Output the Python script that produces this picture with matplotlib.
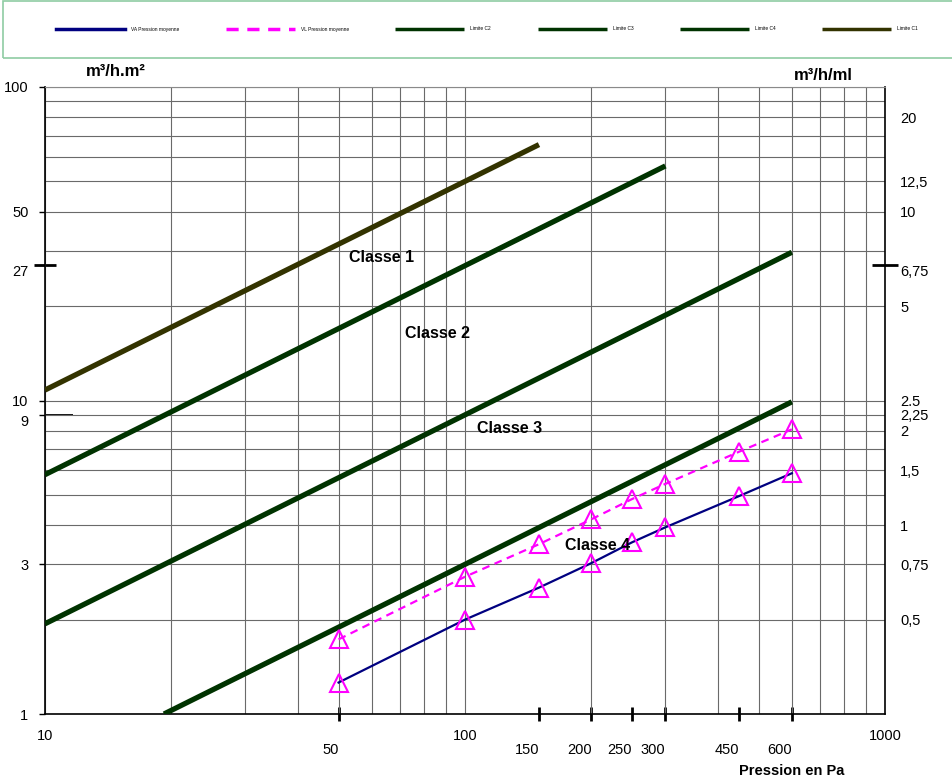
import numpy as np
import matplotlib
matplotlib.use("Agg")
import matplotlib.pyplot as plt
from matplotlib.patches import Rectangle
from matplotlib.ticker import LogLocator, NullFormatter, FixedLocator

plt.rcParams['font.family'] = ['Liberation Sans', 'DejaVu Sans']

# pressions des mesures (Pa)
pressions = [50, 100, 150, 200, 250, 300, 450, 600]
# debits mesures m3/h.m2
va_moy = [1.26, 2.0, 2.53, 3.03, 3.53, 3.94, 4.96, 5.86]
vl_moy = [1.73, 2.74, 3.48, 4.18, 4.85, 5.42, 6.87, 8.09]

# limites de classe (extremites des droites)
c1_x = [10, 150]
c1_y = [10.8, 65.5]
c2_x = [10, 300]
c2_y = [5.8, 56]
c3_x = [10, 600]
c3_y = [1.94, 29.7]
c4_x = [19.2, 600]
c4_y = [1, 9.9]

# graduations
left_vals = [1, 3, 9, 10, 27, 40, 100]
left_labels = ['1', '3', '9', '10', '27', '50', '100']
right_vals = [20, 12.5, 10, 6.75, 5, 2.5, 2.25, 2, 1.5, 1, 0.75, 0.5]
right_labels = ['20', '12,5', '10', '6,75', '5', '2.5', '2,25', '2', '1,5', '1', '0,75', '0,5']
x_major = [10, 100, 1000]
x_extra = [50, 150, 200, 250, 300, 450, 600]

classes = ['Classe 1', 'Classe 2', 'Classe 3', 'Classe 4']
classe_x = [52.9, 71.9, 107, 173]
classe_y = [28.5, 16.4, 8.17, 3.44]

fig = plt.figure(figsize=(9.53, 7.8), dpi=100)
ax = fig.add_axes([45/953, 66/780, 840/953, 627/780])
ax.set_xscale('log')
ax.set_yscale('log')
ax.set_xlim(10, 1000)
ax.set_ylim(1, 100)

green = '#003300'
ax.plot(pressions, va_moy, color='#000080', lw=1.6, label='VA Pression moyenne', zorder=4)
ax.plot(pressions, vl_moy, color='#ff00ff', lw=1.6, ls=(0, (3.5, 2.5)), label='VL Pression moyenne', zorder=4)
ax.plot(c2_x, c2_y, color=green, lw=3.8, label='Limite C2', solid_capstyle='butt', zorder=3)
ax.plot(c3_x, c3_y, color=green, lw=3.8, label='Limite C3', solid_capstyle='butt', zorder=3)
ax.plot(c4_x, c4_y, color=green, lw=3.8, label='Limite C4', solid_capstyle='butt', zorder=3)
ax.plot(c1_x, c1_y, color='#333300', lw=3.8, label='Limite C1', solid_capstyle='butt', zorder=3)
ax.plot(pressions, va_moy, ls='none', marker='^', ms=13.5, mfc='none', mec='#ff00ff', mew=1.5, zorder=5)
ax.plot(pressions, vl_moy, ls='none', marker='^', ms=13.5, mfc='none', mec='#ff00ff', mew=1.5, zorder=5)

for t, x, y in zip(classes, classe_x, classe_y):
    ax.text(x, y, t, fontsize=11.5, fontweight='bold', ha='left', va='center', zorder=6)

# grille
ax.xaxis.set_major_locator(FixedLocator(x_major))
ax.xaxis.set_minor_locator(LogLocator(subs=np.arange(2, 10)))
ax.xaxis.set_minor_formatter(NullFormatter())
ax.set_xticks(x_major, ['10', '100', '1000'])
ax.yaxis.set_major_locator(LogLocator(subs=np.arange(1, 10)))
ax.yaxis.set_major_formatter(NullFormatter())
ax.yaxis.set_minor_locator(FixedLocator([]))
ax.grid(True, which='both', color='#6a6a6a', lw=0.8)
ax.tick_params(axis='x', which='both', length=0, labelsize=10.5, pad=11)
ax.tick_params(axis='y', which='both', length=0)
for s in ['left', 'bottom', 'right']:
    ax.spines[s].set_color('black')
    ax.spines[s].set_linewidth(1.2)
ax.spines['top'].set_color('#8a8a8a')

# axe gauche
sl = ax.secondary_yaxis('left')
sl.set_yticks(left_vals, left_labels)
sl.yaxis.set_minor_locator(FixedLocator([]))
sl.tick_params(direction='out', length=4, width=1, labelsize=10.5, pad=8)
sl.spines['left'].set_visible(False)
for lbl, v in zip(sl.get_yticklabels(), left_vals):
    if v in (9, 27):
        lbl.set_va('top')
t27 = ax.secondary_yaxis('left')
t27.set_yticks([27], [''])
t27.yaxis.set_minor_locator(FixedLocator([]))
t27.tick_params(direction='inout', length=16, width=2, color='black')
t27.spines['left'].set_visible(False)
t9 = ax.secondary_yaxis('left')
t9.set_yticks([9], [''])
t9.yaxis.set_minor_locator(FixedLocator([]))
t9.tick_params(direction='in', length=20, width=1.3, color='black')
t9.spines['left'].set_visible(False)

# axe droit m3/h/ml
sr = ax.secondary_yaxis('right', functions=(lambda v: v / 4, lambda v: v * 4))
sr.set_yticks(right_vals, right_labels)
sr.yaxis.set_minor_locator(FixedLocator([]))
sr.tick_params(length=0, labelsize=10.5, pad=11)
sr.spines['right'].set_visible(False)
for lbl, v in zip(sr.get_yticklabels(), right_vals):
    if v == 6.75:
        lbl.set_va('top')
t675 = ax.secondary_yaxis('right', functions=(lambda v: v / 4, lambda v: v * 4))
t675.set_yticks([6.75], [''])
t675.yaxis.set_minor_locator(FixedLocator([]))
t675.tick_params(direction='inout', length=19, width=2)
t675.spines['right'].set_visible(False)

# pressions d'essai sous l'axe
sb = ax.secondary_xaxis('bottom')
sb.set_xticks(x_extra, [str(v) for v in x_extra])
sb.xaxis.set_minor_locator(FixedLocator([]))
sb.tick_params(direction='inout', length=10, width=2, labelsize=10.5, pad=16)
for lbl in sb.get_xticklabels():
    lbl.set_ha('right')
sb.spines['bottom'].set_visible(False)

fig.text(116/953, 1 - 71/780, 'm³/h.m²', fontsize=12, fontweight='bold', ha='center', va='center')
fig.text(823/953, 1 - 75/780, 'm³/h/ml', fontsize=12, fontweight='bold', ha='center', va='center')
fig.text(792/953, 1 - 771/780, 'Pression en Pa', fontsize=10.5, fontweight='bold', ha='center', va='center')

# legende
fig.patches.append(Rectangle((3/953, 1 - 58/780), 1.0, 57/780, transform=fig.transFigure,
                             fill=False, edgecolor='#8fcca3', lw=1.2))
leg = fig.legend(loc='center left', bbox_to_anchor=(56/953, 1 - 29/780), ncol=6, frameon=False,
                 fontsize=3.5, handlelength=14.2, handletextpad=1.2, columnspacing=9.6, borderpad=0,
                 borderaxespad=0)
for ln in leg.get_lines():
    ln.set_linewidth(2.5)

fig.savefig('out.png', dpi=100)
